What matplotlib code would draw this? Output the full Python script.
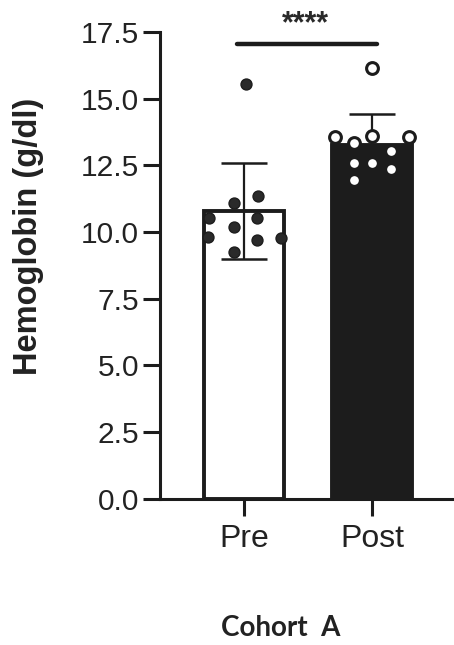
import numpy as np
import matplotlib.pyplot as plt

# Hemoglobin values per subject, before and after treatment
groups = ["Pre", "Post"]
pre_hb = [15.55, 11.36, 11.10, 10.51, 10.51, 10.17, 9.80, 9.70, 9.76, 9.26]
post_hb = [16.14, 13.55, 13.35, 13.60, 13.57, 13.05, 12.57, 12.60, 12.35, 11.95]
y_ticks = [0.0, 2.5, 5.0, 7.5, 10.0, 12.5, 15.0, 17.5]
signif = "****"
cohort = "Cohort  A"

# horizontal spread of the dots inside each bar (scatter columns)
pre_offsets = [0.013, 0.107, -0.076, -0.273, 0.10, -0.076, -0.279, 0.10, 0.289, -0.076]
post_offsets = [0.0, -0.289, -0.14, 0.0, 0.289, 0.146, -0.14, 0.0, 0.146, -0.14]

plt.rcParams['font.family'] = ['Liberation Sans', 'DejaVu Sans']

fig = plt.figure(figsize=(4.54, 6.45), dpi=100)
ax = fig.add_axes([160 / 454, 0.2271, 1 - 160 / 454, 0.9504 - 0.2271])

means = [np.mean(pre_hb), np.mean(post_hb)]
sds = [np.std(pre_hb, ddof=1), np.std(post_hb, ddof=1)]
xpos = np.arange(len(groups))

ax.bar(xpos, means, width=0.63, color=['white', '#1c1c1c'],
       edgecolor='#1c1c1c', linewidth=2.8, zorder=2)
ax.errorbar(xpos, means, yerr=sds, fmt='none', ecolor='#1c1c1c',
            elinewidth=1.6, capsize=16.5, capthick=1.8, zorder=3)

ax.scatter(xpos[0] + np.array(pre_offsets), pre_hb, s=62, color='#2a2a2a',
           edgecolor='#1c1c1c', linewidth=1.0, zorder=4, clip_on=False)
ax.scatter(xpos[1] + np.array(post_offsets), post_hb, s=72, color='white',
           edgecolor='#1c1c1c', linewidth=2.2, zorder=4, clip_on=False)

# significance bracket
ax.plot([-0.055, 1.04], [17.05, 17.05], color='#1c1c1c', lw=3.2,
        solid_capstyle='round', zorder=3)
ax.text(0.48, 17.78, signif, ha='center', va='center', fontsize=22,
        fontweight='bold', color='#2a2a2a')

ax.set_xlim(-0.656, 1.64)
ax.set_ylim(0, 17.5)
ax.set_yticks(y_ticks)
ax.set_yticklabels([f"{t:.1f}" for t in y_ticks])
ax.set_xticks(xpos)
ax.set_xticklabels(groups)

for side in ['top', 'right']:
    ax.spines[side].set_visible(False)
for side in ['left', 'bottom']:
    ax.spines[side].set_linewidth(2.2)
    ax.spines[side].set_color('#1c1c1c')

ax.tick_params(axis='y', length=12, width=2.2, pad=3, labelsize=21.5,
               color='#1c1c1c', labelcolor='#222222')
ax.tick_params(axis='x', length=12, width=2.2, pad=6, labelsize=23,
               color='#1c1c1c', labelcolor='#222222')

fig.text(29 / 454, 1 - 236 / 645, "Hemoglobin (g/dl)", rotation=90,
         ha='center', va='center', fontsize=23.5, fontweight='bold',
         color='#222222')
fig.text(281 / 454, 1 - 628 / 645, cohort, ha='center', va='center',
         fontsize=20, fontweight='bold', family=['Lato', 'DejaVu Sans'],
         color='#222222')

fig.savefig("out.png", dpi=100, facecolor='white')
